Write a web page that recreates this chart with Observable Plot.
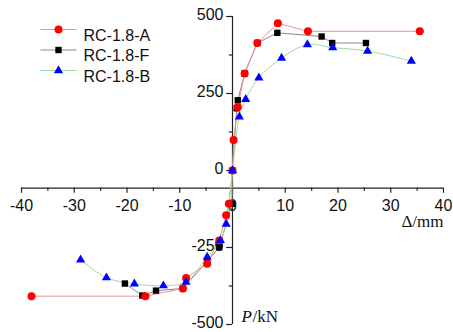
<!DOCTYPE html>
<html><head><meta charset="utf-8">
<script src="https://cdn.jsdelivr.net/npm/d3@7"></script>
<script src="https://cdn.jsdelivr.net/npm/@observablehq/plot@0.6"></script>
<style>html,body{margin:0;padding:0;background:#fff}</style>
</head><body><div id="chart"></div>
<script>
// ---- data ----
const seriesNames = ["RC-1.8-A", "RC-1.8-F", "RC-1.8-B"];
const dispA = [-38.1, -16.5, -9.4, -8.8, -4.8, -2.5, -1.2, -0.7, 0, 0.2, 1.0, 2.3, 4.7, 8.6, 14.3, 35.5];
const loadA = [-408, -408, -383, -349, -303, -227, -145, -108, 0, 99, 206, 315, 414, 478, 452, 452];
const dispF = [-20.4, -17.1, -14.5, -9.4, -4.8, -2.5, -0.1, 0, 0.8, 1.0, 2.3, 4.7, 8.5, 16.9, 18.9, 25.3];
const loadF = [-367, -406, -390, -383, -295, -249, -108, 0, 202, 228, 315, 414, 447, 435, 414, 414];
const dispB = [-28.8, -23.9, -18.6, -13.1, -8.8, -4.8, -2.3, -1.2, 0, 1.3, 2.5, 5.0, 9.3, 14.2, 19.0, 25.6, 33.9];
const loadB = [-290, -348, -368, -374, -362, -281, -227, -174, 0, 174, 231, 301, 365, 409, 399, 388, 355];
const xTicks = [-40, -30, -20, -10, 0, 10, 20, 30, 40];
const xMinorTicks = [-35, -25, -15, -5, 5, 15, 25, 35];
const yTicks = [-500, -250, 0, 250, 500];
const yMinorTicks = [-375, -125, 125, 375];
const xAxisAt = -57; // load value where the Δ axis line is drawn

// ---- build tables ----
const toRows = (xs, ys) => xs.map((x, i) => ({x, y: ys[i]}));
const rowsA = toRows(dispA, loadA);
const rowsF = toRows(dispF, loadF);
const rowsB = toRows(dispB, loadB);

const styles = [
  {rows: rowsA, line: "#ef8f8f", fill: "#ff0000", symbol: "circle", r: 4, curve: "linear"},
  {rows: rowsF, line: "#8a8a8a", fill: "#000000", symbol: "square", r: 3.6, curve: "linear"},
  {rows: rowsB, line: "#9fdc9f", fill: "#0000ff", symbol: "triangle", r: 3.4, curve: "catmull-rom"}
];
const drawOrder = [1, 0, 2];

const dash = {draw(ctx) { ctx.moveTo(-18, 0); ctx.lineTo(18, 0); }};
const axisColor = "#222";
const textColor = "#111";
const serif = "'Liberation Serif', 'Times New Roman', serif";

const marks = [
  // axes
  Plot.ruleX([0], {y1: -500, y2: 500, stroke: axisColor, strokeWidth: 1.2}),
  Plot.ruleY(yTicks, {y: d => d, x1: 0, x2: -1.1, stroke: axisColor, strokeWidth: 1.2}),
  Plot.ruleY(yMinorTicks, {y: d => d, x1: 0, x2: -0.6, stroke: axisColor, strokeWidth: 1.2}),
  Plot.ruleY([xAxisAt], {x1: -40, x2: 40, stroke: axisColor, strokeWidth: 1.2}),
  Plot.ruleX(xTicks, {x: d => d, y1: xAxisAt, y2: xAxisAt - 17, stroke: axisColor, strokeWidth: 1.2}),
  Plot.ruleX(xMinorTicks, {x: d => d, y1: xAxisAt, y2: xAxisAt - 10, stroke: axisColor, strokeWidth: 1.2}),
  Plot.text(xTicks, {x: d => d, y: xAxisAt, dy: 18, text: d => String(d), fill: textColor}),
  Plot.text(yTicks, {x: 0, y: d => d, dx: -9, dy: -1.5, textAnchor: "end", text: d => String(d), fill: textColor}),
  Plot.text(["Δ/mm"], {frameAnchor: "right", y: xAxisAt, dy: 33, textAnchor: "end", fontFamily: serif, fontSize: 17, fill: textColor}),
  Plot.text(["P"], {x: 0, frameAnchor: "bottom", dx: 9, dy: -3, textAnchor: "start", fontStyle: "italic", fontFamily: serif, fontSize: 17, fill: textColor}),
  Plot.text(["/kN"], {x: 0, frameAnchor: "bottom", dx: 20, dy: -3, textAnchor: "start", fontFamily: serif, fontSize: 17, fill: textColor})
];

// lines
for (const i of drawOrder) {
  const s = styles[i];
  marks.push(Plot.line(s.rows, {x: "x", y: "y", stroke: s.line, strokeWidth: 1, curve: s.curve}));
}
// markers
for (const i of drawOrder) {
  const s = styles[i];
  marks.push(Plot.dot(s.rows, {x: "x", y: "y", symbol: s.symbol, r: s.r, fill: s.fill, stroke: "none"}));
}
// legend
seriesNames.forEach((name, i) => {
  const s = styles[i];
  const dy = 13 + i * 20.5;
  marks.push(Plot.dot([name], {frameAnchor: "top-left", dx: 37, dy, symbol: dash, stroke: s.line, strokeWidth: 1, fill: "none"}));
  marks.push(Plot.dot([name], {frameAnchor: "top-left", dx: 37, dy, symbol: s.symbol, r: s.r, fill: s.fill, stroke: "none"}));
  marks.push(Plot.text([name], {frameAnchor: "top-left", dx: 62, dy, textAnchor: "start", text: d => d, fill: textColor}));
});

const chart = Plot.plot({
  width: 453,
  height: 332,
  marginLeft: 21,
  marginRight: 10,
  marginTop: 16,
  marginBottom: 8,
  x: {domain: [-40, 40], axis: null},
  y: {domain: [-500, 500], axis: null},
  style: {fontFamily: "'Liberation Sans', Arial, sans-serif", fontSize: "16px", background: "#fff", overflow: "visible"},
  marks
});
document.getElementById("chart").append(chart);
</script>
</body></html>
